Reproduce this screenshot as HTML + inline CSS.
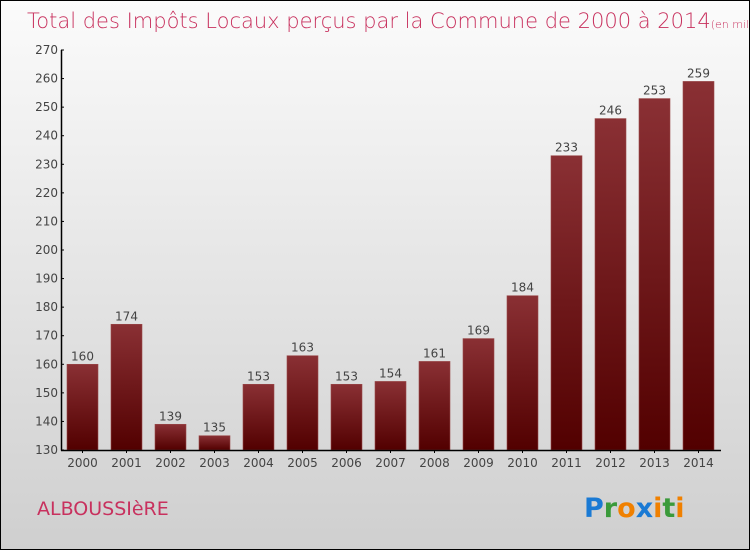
<!DOCTYPE html>
<html><head><meta charset="utf-8"><style>
body{margin:0}
#c{width:748px;height:548px;border:1px solid #000;background:linear-gradient(#fbfbfb,#cfcfcf);position:relative;font-family:"DejaVu Sans","Liberation Sans",sans-serif;overflow:hidden}
</style></head><body>
<div id="c">
<svg width="748" height="548">
<defs><linearGradient id="g" x1="0" y1="0" x2="0" y2="1"><stop offset="0" stop-color="#8a3034"/><stop offset="1" stop-color="#520000"/></linearGradient></defs>
<text x="26" y="27" font-size="21" fill="#c8315e" font-family="DejaVu Sans" font-weight="200">Total des Impôts Locaux perçus par la Commune de 2000 à 2014<tspan font-size="11">(en milliers d'€)</tspan></text>
<g id="plot"></g>
<text x="36" y="514" font-size="19" fill="#c8315e">ALBOUSSIèRE</text>
<g font-size="27" font-weight="bold" font-family="DejaVu Sans">
<text x="583" y="516"><tspan fill="#1a7ad4">P</tspan><tspan fill="#3a9a3a">r</tspan><tspan fill="#f08000">o</tspan><tspan fill="#1a7ad4">x</tspan><tspan fill="#f08000">i</tspan><tspan fill="#3a9a3a">t</tspan><tspan fill="#f08000">i</tspan></text>
</g>
</svg>
</div>
<script>
const years=["2000","2001","2002","2003","2004","2005","2006","2007","2008","2009","2010","2011","2012","2013","2014"];
const values=[160,174,139,135,153,163,153,154,161,169,184,233,246,253,259];
const ticks=[130,140,150,160,170,180,190,200,210,220,230,240,250,260,270];
const ns="http://www.w3.org/2000/svg";
const g=document.getElementById('plot');
const y0=449,yTop=49,vmin=130,vmax=270;
const y=v=>y0-(v-vmin)/(vmax-vmin)*(y0-yTop);
const x=i=>66+i*44;
function mk(t,a,txt){const e=document.createElementNS(ns,t);for(const k in a)e.setAttribute(k,a[k]);if(txt!==undefined)e.textContent=txt;g.appendChild(e);return e;}
values.forEach((v,i)=>{
 const r=mk('rect',{x:x(i),y:y(v),width:31,height:y0-y(v),fill:'url(#g)',stroke:'#9a4a4a','stroke-width':0.6});
 
 
 const t=mk('text',{x:x(i)+15.5,y:y(v)-4,'font-size':12,fill:'#444','text-anchor':'middle'},v);
 
 
 const yl=mk('text',{x:x(i)+15.5,y:466,'font-size':12,fill:'#444','text-anchor':'middle'},years[i]);
 
 
 mk('line',{x1:x(i)+15.5,x2:x(i)+15.5,y1:y0,y2:y0+3,stroke:'#000'});
});
ticks.forEach(v=>{
 const t=mk('text',{x:57,y:y(v)+4,'font-size':12,fill:'#444','text-anchor':'end'},v);
 
 
 mk('line',{x1:60,x2:63,y1:y(v),y2:y(v),stroke:'#000'});
});
const ya=mk('line',{x1:60.5,x2:60.5,y1:yTop,y2:y0+0.5,stroke:'#000','stroke-width':1.5});


const xa=mk('line',{x1:60,x2:720,y1:y0+0.5,y2:y0+0.5,stroke:'#000','stroke-width':1.5});


</script>
</body></html>
